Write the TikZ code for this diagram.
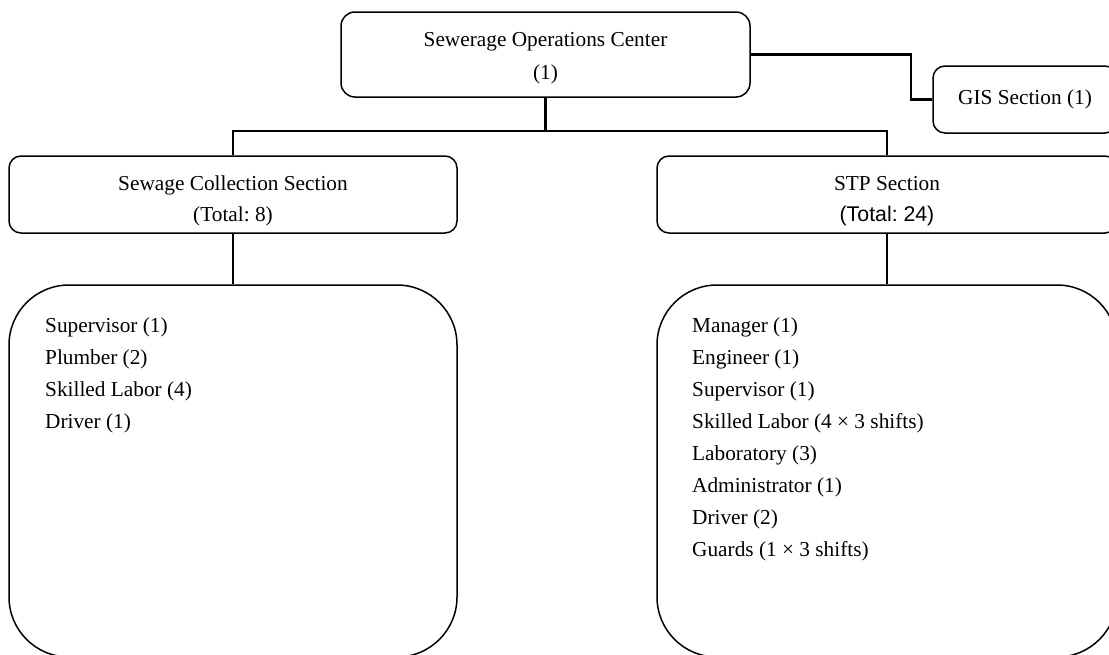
\documentclass[tikz,border=0pt]{standalone}
\usepackage{fontspec}
\setmainfont{Liberation Serif}
\newfontfamily\arialfont{Liberation Sans}
\frenchspacing
\begin{document}
\begin{tikzpicture}[x=1pt,y=-1pt,
  box/.style={draw=black, line width=1.5pt, fill=white, inner sep=0pt,
    align=center, font=\fontsize{21.3}{33}\selectfont},
  listbox/.style={draw=black, line width=1.5pt, fill=white, inner sep=0pt,
    rounded corners=60pt, minimum height=372pt},
  listtext/.style={inner sep=0pt, align=left, anchor=north west,
    font=\fontsize{21.3}{32}\selectfont},
  conn/.style={draw=black, line width=2.2pt}]
  \useasboundingbox (0,0) rectangle (1109,654);
  \clip (0,0) rectangle (1109,654);

  % top level
  \node[box, rounded corners=14pt, minimum width=409pt, minimum height=85pt]
    (soc) at (545.5,54.5) {\rule{0pt}{22pt}Sewerage Operations Center\\(1)};
  \node[box, rounded corners=12pt, minimum width=184pt, minimum height=67pt]
    (gis) at (1025,99.5) {GIS Section (1)};

  % sections
  \node[box, rounded corners=12pt, minimum width=448pt, minimum height=77pt]
    (scs) at (233,194.5) {\rule{0pt}{27pt}Sewage Collection Section\\[-2pt](Total: 8)};
  \node[box, rounded corners=12pt, minimum width=460pt, minimum height=77pt]
    (stp) at (887,194.5) {\rule{0pt}{27pt}STP Section\\[-2pt]{\arialfont (Total: 24)}};

  % staff lists
  \node[listbox, minimum width=448pt] (scl) at (233,471) {};
  \node[listbox, minimum width=460pt] (stl) at (887,471) {};
  \node[listtext] (scltxt) at (45,317.5)
    {Supervisor (1)\\Plumber (2)\\Skilled Labor (4)\\Driver (1)};
  \node[listtext] (stltxt) at (692,317.5)
    {Manager (1)\\Engineer (1)\\Supervisor (1)\\Skilled Labor (4 × 3 shifts)\\
     Laboratory (3)\\Administrator (1)\\Driver (2)\\Guards (1 × 3 shifts)};

  % connectors
  \coordinate (bus) at (545.5,131);
  \coordinate (elbow) at (911,54.5);
  \draw[conn] (soc.south) -- (bus);
  \draw[conn] (scs.north) |- (bus) -| (stp.north);
  \draw[conn] (soc.east) -- (elbow) |- (gis.west);
  \draw[conn] (scs.south) -- (scl.north);
  \draw[conn] (stp.south) -- (stl.north);
\end{tikzpicture}
\end{document}
